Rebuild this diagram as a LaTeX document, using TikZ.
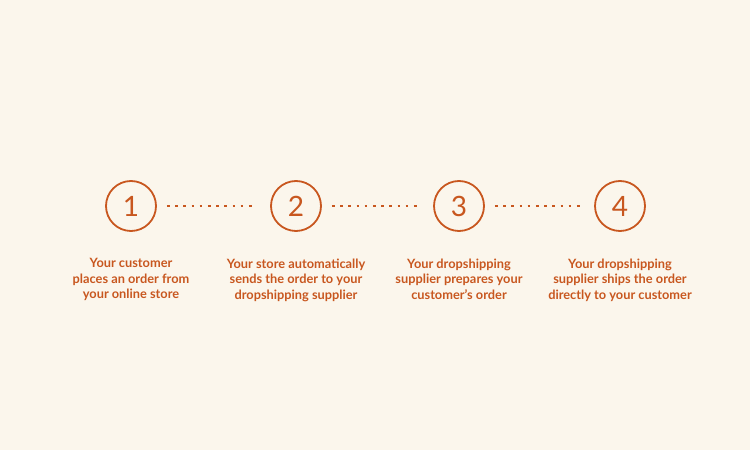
\documentclass[tikz,border=0pt]{standalone}
\usepackage{fontspec}
\setmainfont{Lato}
\usepackage{tikz}
\definecolor{rust}{HTML}{C8571F}
\definecolor{cream}{HTML}{FBF6EC}
\tikzset{
  stepcircle/.style={shape=circle,draw=rust,line width=1.8pt,minimum size=50pt,inner sep=0pt,text=rust,font=\fontsize{28}{28}\selectfont},
  steptext/.style={text=rust,align=center,font=\fontsize{12.8}{15.6}\selectfont\bfseries,anchor=north},
  link/.style={draw=rust,line width=1.1pt,dash pattern=on 2.6pt off 5.6pt}
}

\begin{document}
\begin{tikzpicture}[x=1pt,y=1pt]
\fill[cream] (0,0) rectangle (750,450);
\useasboundingbox (0,0) rectangle (750,450);
\node[stepcircle] (A) at (131,244) {1};
\node[stepcircle] (B) at (296,244) {2};
\node[stepcircle] (C) at (459,244) {3};
\node[stepcircle] (D) at (620,244) {4};
\node[steptext] (TA) at (131,195) {Your customer\\places an order from\\your online store};
\node[steptext] (TB) at (296,195) {Your store automatically\\sends the order to your\\dropshipping supplier};
\node[steptext] (TC) at (459,195) {Your dropshipping\\supplier prepares your\\customer’s order};
\node[steptext] (TD) at (620,195) {Your dropshipping\\supplier ships the order\\directly to your customer};
\path [link] ([xshift=10pt]A.east) edge node[left] {} ([xshift=-14pt]B.west);
\path [link] ([xshift=10pt]B.east) edge node[left] {} ([xshift=-14pt]C.west);
\path [link] ([xshift=10pt]C.east) edge node[left] {} ([xshift=-14pt]D.west);
\end{tikzpicture}
\end{document}
